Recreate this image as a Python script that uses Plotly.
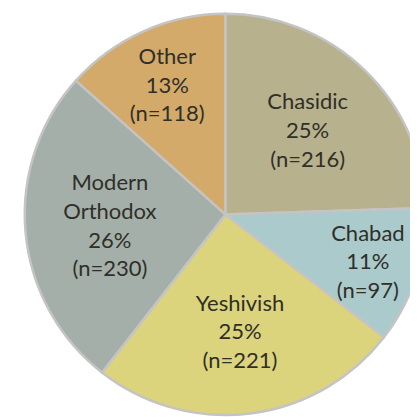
import plotly.graph_objects as go

labels = ["Chasidic", "Chabad", "Yeshivish", "Modern Orthodox", "Other"]
display_labels = ["Chasidic", "Chabad", "Yeshivish", "Modern<br>Orthodox", "Other"]
counts = [216, 97, 221, 230, 118]
pct_labels = ["25%", "11%", "25%", "26%", "13%"]
colors = ["#B8B18D", "#AACACB", "#DCD37D", "#A5AFAA", "#D3AA6A"]

text = [f"{l}<br>{p}<br>(n={c})" for l, p, c in zip(display_labels, pct_labels, counts)]

fig = go.Figure(go.Pie(
    labels=labels,
    values=counts,
    text=text,
    textinfo="text",
    sort=False,
    direction="clockwise",
    rotation=0,
    marker=dict(colors=colors, line=dict(color="#C4C4C4", width=2.5)),
    textposition="inside",
    insidetextorientation="horizontal",
    textfont=dict(family="Lato, Open Sans, sans-serif", size=22, color="#2F2F27"),
    hoverinfo="label+value",
    domain=dict(x=[0.04, 1.0], y=[0.024, 0.986]),
    showlegend=False,
))

fig.update_layout(
    width=418, height=417,
    margin=dict(l=0, r=0, t=0, b=0),
    paper_bgcolor="white",
    plot_bgcolor="white",
    uniformtext=dict(minsize=22, mode="show"),
)

fig.write_html("out.html")
